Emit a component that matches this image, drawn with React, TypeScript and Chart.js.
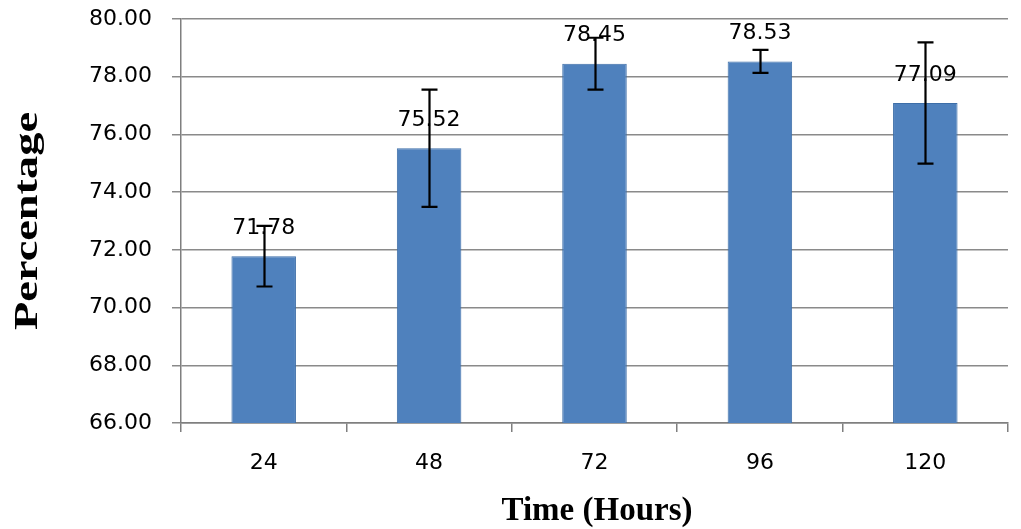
import React, { useEffect, useRef } from "react";
import { Chart, registerables } from "chart.js";

Chart.register(...registerables);

const categories = ["24", "48", "72", "96", "120"];
const means = [71.78, 75.52, 78.45, 78.53, 77.09];
const errors = [1.05, 2.03, 0.9, 0.4, 2.1];
const yTitle = "Percentage";
const xTitle = "Time (Hours)";

const tickFont = '"DejaVu Sans", Verdana, sans-serif';

const overlayPlugin = {
  id: "overlay",
  afterDatasetsDraw(chart: any) {
    const ctx = chart.ctx;
    const meta = chart.getDatasetMeta(0);
    const y = chart.scales.y;
    ctx.save();
    // value labels
    ctx.fillStyle = "#000";
    ctx.font = `22px ${tickFont}`;
    ctx.textAlign = "center";
    ctx.textBaseline = "middle";
    meta.data.forEach((bar: any, i: number) => {
      ctx.fillText(means[i].toFixed(2), bar.x, bar.y - 28);
    });
    // error bars
    ctx.strokeStyle = "#000";
    ctx.lineWidth = 2.2;
    meta.data.forEach((bar: any, i: number) => {
      const top = y.getPixelForValue(means[i] + errors[i]);
      const bot = y.getPixelForValue(means[i] - errors[i]);
      const x = Math.round(bar.x) + 0.5;
      ctx.beginPath();
      ctx.moveTo(x, top);
      ctx.lineTo(x, bot);
      ctx.moveTo(x - 8, top);
      ctx.lineTo(x + 8, top);
      ctx.moveTo(x - 8, bot);
      ctx.lineTo(x + 8, bot);
      ctx.stroke();
    });
    // axis titles
    ctx.fillStyle = "#000";
    ctx.font = 'bold 33px "Liberation Serif", "Times New Roman", serif';
    ctx.textAlign = "center";
    ctx.textBaseline = "alphabetic";
    ctx.fillText(xTitle, 597, 520);

    ctx.font = 'bold 34px "Liberation Serif", "Times New Roman", serif';
    const w = ctx.measureText(yTitle).width;
    const sx = 218 / w;
    ctx.translate(37, 221);
    ctx.rotate(-Math.PI / 2);
    ctx.scale(sx, 1);
    ctx.fillText(yTitle, 0, 0);
    ctx.restore();
  },
};

export default function App() {
  const ref = useRef<HTMLCanvasElement | null>(null);
  useEffect(() => {
    if (!ref.current) return;
    const chart = new Chart(ref.current, {
      type: "bar",
      data: {
        labels: categories,
        datasets: [
          {
            data: means,
            backgroundColor: "#4f81bd",
            borderColor: "#3d6ea8",
            borderWidth: 1,
            categoryPercentage: 1,
            barPercentage: 0.39,
          },
        ],
      },
      options: {
        animation: false,
        responsive: true,
        maintainAspectRatio: false,
        layout: { padding: { top: 19, right: 13, left: 0, bottom: 0 } },
        plugins: {
          legend: { display: false },
          tooltip: { enabled: false },
        },
        scales: {
          x: {
            offset: true,
            grid: {
              offset: true,
              drawOnChartArea: false,
              drawTicks: true,
              tickLength: 9,
              color: "#7f7f7f",
              lineWidth: 1.5,
            },
            border: { color: "#7f7f7f", width: 1.5 },
            ticks: {
              color: "#000",
              font: { family: tickFont, size: 22 },
              padding: 18,
            },
            afterFit(scale: any) {
              scale.height = 529 - 423;
              scale.paddingLeft = 0;
              scale.paddingRight = 0;
            },
          },
          y: {
            min: 66,
            max: 80,
            grid: {
              color: "#8a8a8a",
              lineWidth: 1.5,
              tickLength: 9,
            },
            border: { color: "#7f7f7f", width: 1.5 },
            ticks: {
              stepSize: 2,
              color: "#000",
              font: { family: tickFont, size: 22 },
              padding: 20,
              callback: (v: any) => Number(v).toFixed(2),
            },
            afterFit(scale: any) {
              scale.width = 181;
              scale.paddingTop = 0;
              scale.paddingBottom = 0;
            },
          },
        },
      },
      plugins: [overlayPlugin],
    });
    return () => chart.destroy();
  }, []);
  return (
    <div
      style={{
        position: "fixed",
        left: 0,
        top: 0,
        width: 1021,
        height: 529,
        background: "#fff",
      }}
    >
      <canvas ref={ref} />
    </div>
  );
}
